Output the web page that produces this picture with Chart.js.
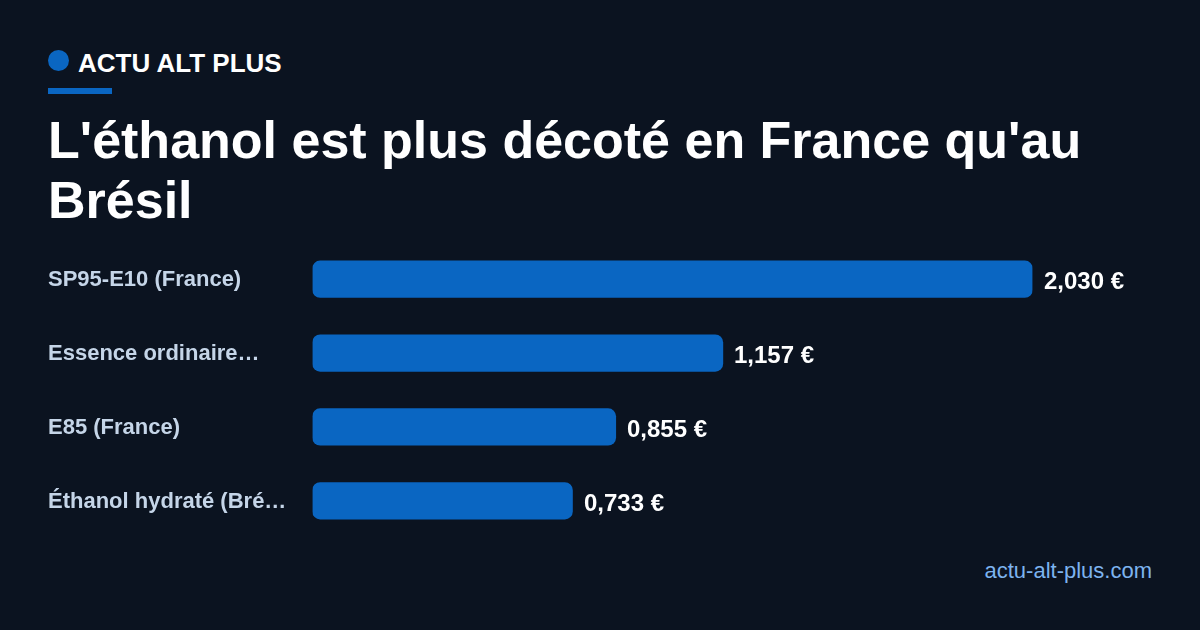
<!DOCTYPE html>
<html lang="fr">
<head>
<meta charset="utf-8">
<title>L'éthanol est plus décoté en France qu'au Brésil</title>
<script src="https://cdn.jsdelivr.net/npm/chart.js@4"></script>
<style>
  html, body { margin: 0; padding: 0; background: #0b1320; }
  body { width: 1200px; height: 630px; position: relative; overflow: hidden; font-family: "Liberation Sans", Arial, sans-serif; }
  #chartBox { position: absolute; left: 0; top: 229px; width: 1200px; height: 322px; }
  .dot { position: absolute; left: 48px; top: 50px; width: 21px; height: 21px; border-radius: 50%; background: #0a66c2; }
  .brand { position: absolute; left: 78px; top: 47px; font-size: 26px; line-height: 32px; font-weight: 700; color: #fff; white-space: nowrap; }
  .rule { position: absolute; left: 48px; top: 88px; width: 64px; height: 6px; background: #0a66c2; }
  h1 { position: absolute; left: 48px; top: 110px; width: 1104px; margin: 0; font-size: 52px; line-height: 60px; font-weight: 700; color: #fff; }
  .site { position: absolute; right: 48px; top: 557px; font-size: 22px; line-height: 28px; color: #7db3ef; white-space: nowrap; }
</style>
</head>
<body>
<div class="dot"></div>
<div class="brand">ACTU ALT PLUS</div>
<div class="rule"></div>
<h1>L'éthanol est plus décoté en France qu'au Brésil</h1>
<div id="chartBox"><canvas id="chart"></canvas></div>
<div class="site">actu-alt-plus.com</div>
<script>
var categories = ['SP95-E10 (France)', 'Essence ordinaire…', 'E85 (France)', 'Éthanol hydraté (Bré…'];
var prices = [2.030, 1.157, 0.855, 0.733];
var valueLabels = ['2,030 €', '1,157 €', '0,855 €', '0,733 €'];

// Value text right of each bar
var valueLabelPlugin = {
    id: 'valueLabels',
    afterDatasetsDraw: function (chart) {
        var ctx = chart.ctx;
        var bars = chart.getDatasetMeta(0).data;
        ctx.save();
        ctx.font = '700 24px "Liberation Sans", Arial, sans-serif';
        ctx.fillStyle = '#ffffff';
        ctx.textAlign = 'left';
        ctx.textBaseline = 'middle';
        bars.forEach(function (bar, i) {
            ctx.fillText(valueLabels[i], Math.round(bar.x + 11.5), Math.round(bar.y + 2.7));
        });
        ctx.restore();
    }
};

new Chart(document.getElementById('chart'), {
    type: 'bar',
    data: {
        labels: categories,
        datasets: [{
            data: prices,
            backgroundColor: '#0a66c2',
            borderWidth: 0,
            borderRadius: 8,
            borderSkipped: false,
            barThickness: 36.5
        }]
    },
    options: {
        indexAxis: 'y',
        responsive: true,
        maintainAspectRatio: false,
        animation: false,
        layout: { padding: { left: 48, right: 167.5, top: 0.3, bottom: -0.3 } },
        plugins: { legend: { display: false }, tooltip: { enabled: false } },
        scales: {
            x: { display: false, min: 0, max: 2.030 },
            y: {
                afterFit: function (scale) { scale.width = 264.5; },
                grid: { display: false },
                border: { display: false },
                ticks: {
                    crossAlign: 'far',
                    padding: 0,
                    autoSkip: false,
                    color: '#c5d5e8',
                    labelOffset: 0.7,
                    font: { family: '"Liberation Sans", Arial, sans-serif', size: 22, weight: '700' }
                }
            }
        }
    },
    plugins: [valueLabelPlugin]
});
</script>
</body>
</html>
